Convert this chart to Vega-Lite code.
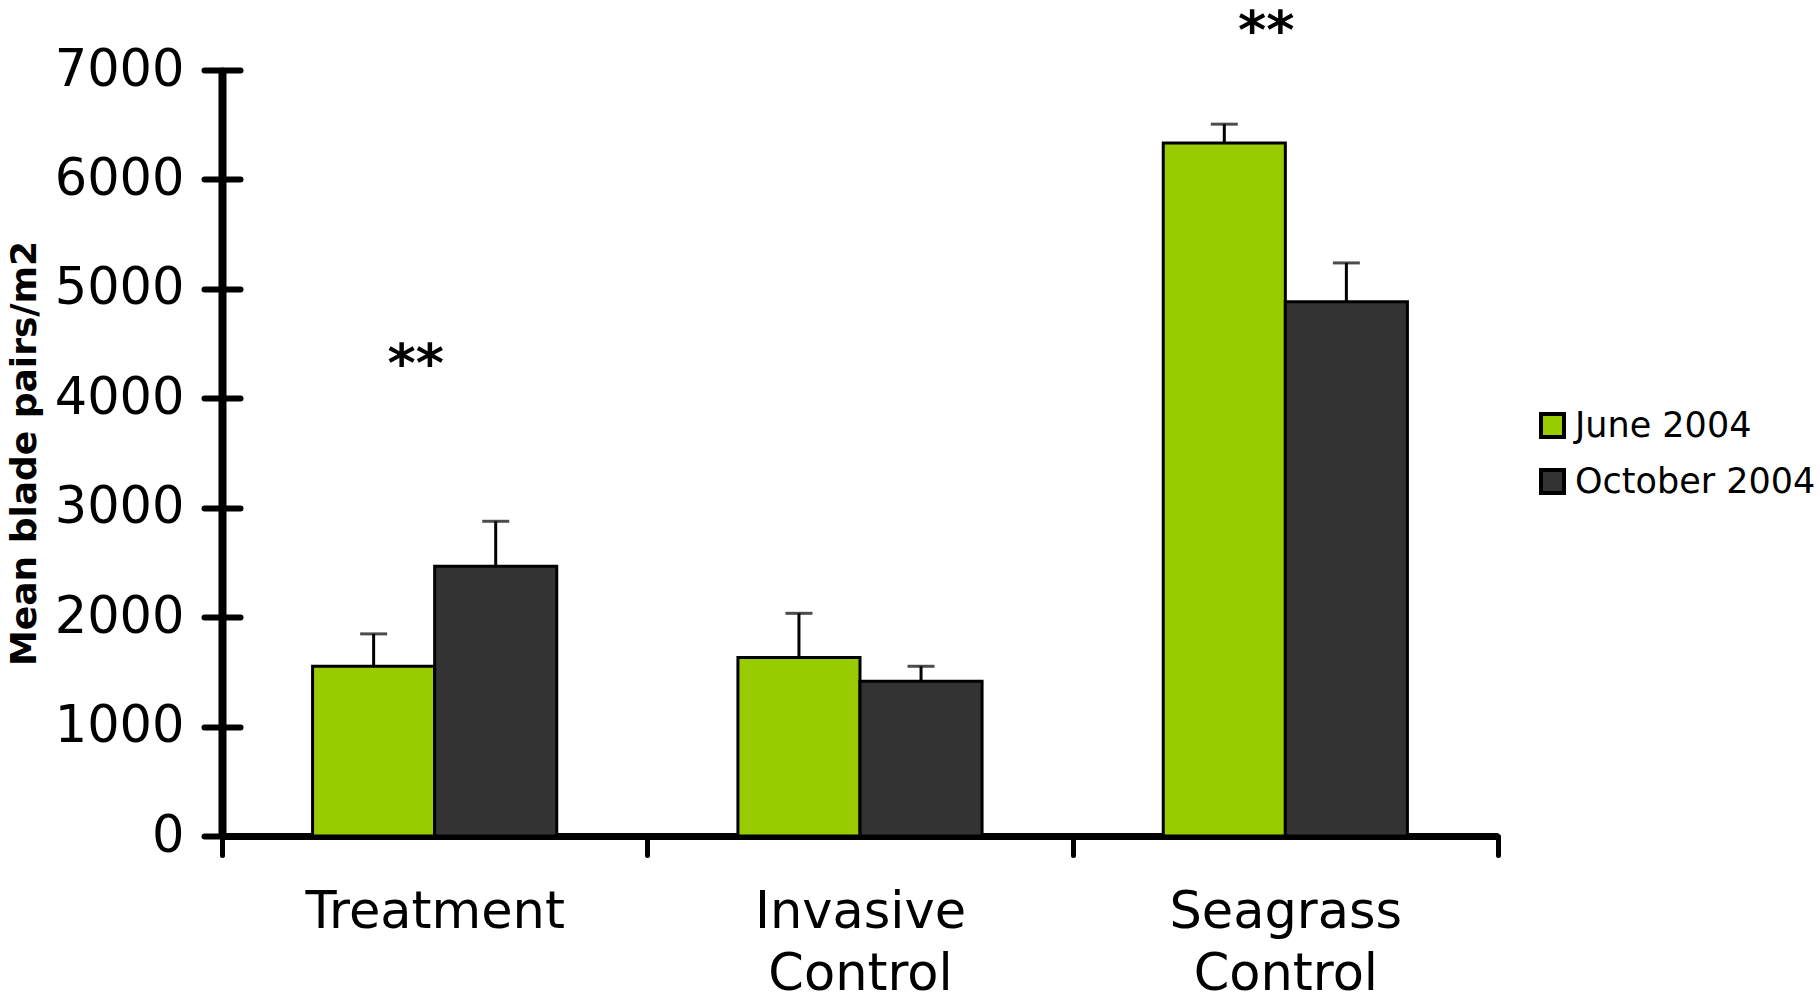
{
  "$schema": "https://vega.github.io/schema/vega-lite/v6.json",
  "width": 1276,
  "height": 766,
  "autosize": {"type": "none"},
  "padding": {"left": 222, "top": 70, "right": 322, "bottom": 169},
  "background": "white",
  "config": {"view": {"stroke": null}, "font": "DejaVu Sans"},
  "datasets": {
    "bars": [
      {"site": "Treatment", "period": "June 2004", "mean": 1552, "upper": 1847},
      {"site": "Treatment", "period": "October 2004", "mean": 2465, "upper": 2876},
      {"site": "Invasive Control", "period": "June 2004", "mean": 1631, "upper": 2035},
      {"site": "Invasive Control", "period": "October 2004", "mean": 1414, "upper": 1551},
      {"site": "Seagrass Control", "period": "June 2004", "mean": 6332, "upper": 6505},
      {"site": "Seagrass Control", "period": "October 2004", "mean": 4882, "upper": 5237}
    ],
    "marks": [
      {"site": "Treatment", "pos": 4150, "label": "**"},
      {"site": "Seagrass Control", "pos": 7190, "label": "**"}
    ]
  },
  "resolve": {"axis": {"y": "independent"}},
  "layer": [
    {
      "data": {"name": "bars"},
      "mark": {"type": "bar", "stroke": "black", "strokeWidth": 3},
      "encoding": {
        "x": {
          "field": "site", "type": "nominal",
          "sort": ["Treatment", "Invasive Control", "Seagrass Control"],
          "scale": {"paddingInner": 0, "paddingOuter": 0},
          "axis": {
            "title": null, "labelAngle": 0, "labelFontSize": 51, "labelColor": "black", "labelLimit": 0,
            "labelLineHeight": 62, "labelBaseline": "top", "labelPadding": 32,
            "labelExpr": "datum.label == 'Treatment' ? 'Treatment' : split(datum.label, ' ')",
            "domainColor": "black", "domainWidth": 7,
            "tickColor": "black", "tickWidth": 5, "tickSize": 19, "tickBand": "extent", "tickCap": "round"
          }
        },
        "xOffset": {"field": "period", "type": "nominal", "scale": {"domain": ["June 2004", "October 2004"], "paddingInner": 0, "paddingOuter": 0.742}},
        "y": {
          "field": "mean", "type": "quantitative",
          "scale": {"domain": [0, 7000], "nice": false},
          "axis": {
            "orient": "left",
            "title": "Mean blade pairs/m2", "titleFont": "DejaVu Sans", "titleFontWeight": "bold",
            "titleFontSize": 36, "titlePadding": 11, "titleColor": "black",
            "values": [0, 1000, 2000, 3000, 4000, 5000, 6000, 7000], "format": "d",
            "labelFontSize": 51, "labelColor": "black", "labelPadding": 20,
            "domainColor": "black", "domainWidth": 8,
            "tickColor": "black", "tickWidth": 6, "tickSize": 18, "tickCap": "round",
            "grid": false
          }
        },
        "color": {
          "field": "period", "type": "nominal",
          "scale": {"domain": ["June 2004", "October 2004"], "range": ["#99cc00", "#333333"]},
          "legend": {
            "orient": "none", "legendX": 1313, "legendY": 338, "title": null,
            "symbolType": "square", "symbolSize": 529, "symbolStrokeColor": "black", "symbolStrokeWidth": 4,
            "labelFontSize": 35, "labelColor": "black", "labelOffset": 5, "labelLimit": 0, "rowPadding": 17, "padding": 0
          }
        }
      }
    },
    {
      "data": {"name": "bars"},
      "mark": {"type": "rule", "strokeWidth": 3, "color": "black"},
      "encoding": {
        "x": {"field": "site", "type": "nominal", "sort": ["Treatment", "Invasive Control", "Seagrass Control"]},
        "xOffset": {"field": "period", "type": "nominal"},
        "y": {
          "field": "mean", "type": "quantitative",
          "axis": {
            "orient": "left", "title": null, "labels": false, "domain": false,
            "values": [0, 1000, 2000, 3000, 4000, 5000, 6000, 7000],
            "tickColor": "black", "tickWidth": 6, "tickSize": -18, "tickCap": "round", "grid": false
          }
        },
        "y2": {"field": "upper"}
      }
    },
    {
      "data": {"name": "bars"},
      "mark": {"type": "tick", "orient": "horizontal", "size": 27, "thickness": 3, "color": "black"},
      "encoding": {
        "x": {"field": "site", "type": "nominal", "sort": ["Treatment", "Invasive Control", "Seagrass Control"]},
        "xOffset": {"field": "period", "type": "nominal"},
        "y": {"field": "upper", "type": "quantitative", "axis": null}
      }
    },
    {
      "data": {"name": "marks"},
      "mark": {"type": "text", "fontSize": 54, "fontWeight": "bold", "dx": -19, "baseline": "alphabetic", "color": "black", "font": "DejaVu Sans"},
      "encoding": {
        "x": {"field": "site", "type": "nominal", "sort": ["Treatment", "Invasive Control", "Seagrass Control"]},
        "y": {"field": "pos", "type": "quantitative", "axis": null},
        "text": {"field": "label"}
      }
    }
  ]
}
